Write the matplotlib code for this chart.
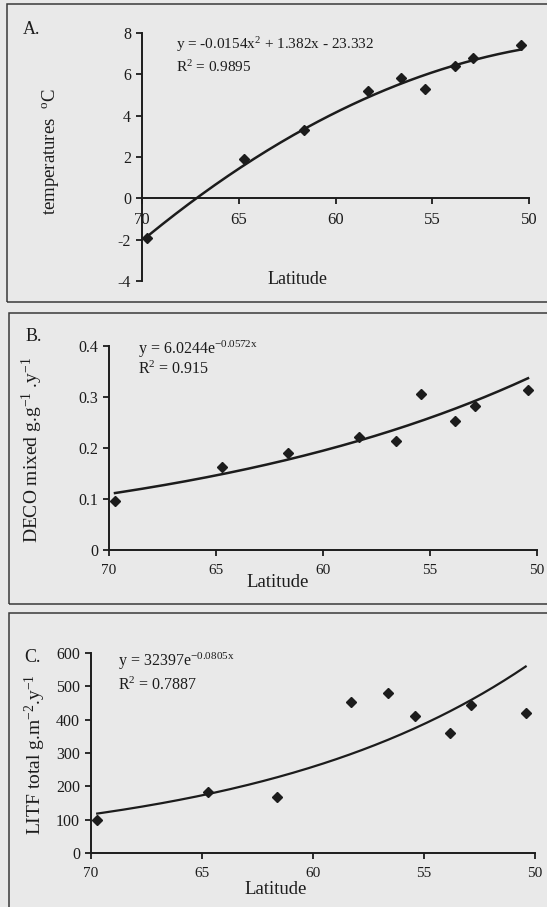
import numpy as np
import matplotlib
matplotlib.use('Agg')
import matplotlib.pyplot as plt
from matplotlib.patches import Rectangle
from matplotlib.ticker import FuncFormatter

plt.rcParams['font.family'] = ['Liberation Serif', 'DejaVu Serif']
plt.rcParams['mathtext.fontset'] = 'custom'
plt.rcParams['mathtext.rm'] = 'Liberation Serif'
plt.rcParams['mathtext.it'] = 'Liberation Serif:italic'
plt.rcParams['axes.unicode_minus'] = False

# Latitude of the sites (N-S transect)
latitude = [69.72, 64.72, 61.62, 58.3, 56.6, 55.4, 53.85, 52.9, 50.42]

# A. mean annual temperature
temperature = [-1.9, 1.9, 3.3, 5.2, 5.8, 5.3, 6.4, 6.8, 7.4]
# B. decomposition rate
deco_mixed = [0.097, 0.162, 0.191, 0.222, 0.214, 0.305, 0.253, 0.282, 0.314]
# C. litter fall
litf_total = [100, 184, 167, 454, 479, 412, 359, 443, 419]

# trendline coefficients as printed on the chart
poly_a = (-0.0154, 1.382, -23.332)
exp_b = (6.0244, -0.0572)
exp_c = (32397, -0.0805)

W, H = 547, 907
INK = '#1c1c1c'
BG = '#e9e9e9'

fig = plt.figure(figsize=(W / 100, H / 100), dpi=100, facecolor=BG)


def px_axes(left, top, right, bottom):
    return fig.add_axes([left / W, 1 - bottom / H, (right - left) / W, (bottom - top) / H])


def box(left, top, right, bottom):
    fig.patches.append(Rectangle((left / W, 1 - bottom / H), (right - left) / W, (bottom - top) / H,
                                 transform=fig.transFigure, fill=False, edgecolor='#3a3a3a', lw=1.1))


def style(ax, ylim, yticks, ytick_size, xtick_size):
    ax.set_facecolor('none')
    ax.set_xlim(70, 50)
    ax.set_ylim(*ylim)
    ax.set_xticks([70, 65, 60, 55, 50])
    ax.set_yticks(yticks)
    ax.yaxis.set_major_formatter(FuncFormatter(lambda v, p: f'{v:g}'))
    for s in ['top', 'right']:
        ax.spines[s].set_visible(False)
    for s in ['left', 'bottom']:
        ax.spines[s].set_linewidth(1.4)
        ax.spines[s].set_color(INK)
    ax.tick_params(axis='both', direction='out', length=4, width=1.3, colors=INK)
    ax.tick_params(axis='y', labelsize=ytick_size, pad=4)
    ax.tick_params(axis='x', labelsize=xtick_size, pad=6)


box(7, 4, 560, 302)
box(9, 313, 560, 604)
box(9, 613, 560, 930)

xs = np.linspace(min(latitude), max(latitude), 200)

# ---------- A ----------
ax1 = px_axes(142, 33, 529, 281)
style(ax1, (-4, 8), np.arange(-4, 9, 2), 11.5, 12)
ax1.spines['bottom'].set_position(('data', 0))
ax1.plot(xs, poly_a[0] * xs**2 + poly_a[1] * xs + poly_a[2], color=INK, lw=1.8)
ax1.plot(latitude, temperature, 'D', color=INK, ms=5.5)
ax1.text(-0.236, 0.52, 'temperatures  $^{\\mathrm{o}}$C', transform=ax1.transAxes, rotation=90,
         ha='center', va='center', fontsize=13.5, color=INK)
ax1.text(0.403, 0.005, 'Latitude', transform=ax1.transAxes, ha='center', va='center', fontsize=13, color=INK)
ax1.text(0.088, 0.952, 'y = -0.0154x$^{2}$ + 1.382x - 23.332', transform=ax1.transAxes,
         ha='left', va='center', fontsize=11, color=INK)
ax1.text(0.088, 0.863, 'R$^{2}$ = 0.9895', transform=ax1.transAxes, ha='left', va='center', fontsize=11, color=INK)
fig.text(23 / W, 1 - 30 / H, 'A.', ha='left', va='center', fontsize=13, color=INK)

# ---------- B ----------
ax2 = px_axes(109, 346, 537, 550)
style(ax2, (0, 0.4), [0, 0.1, 0.2, 0.3, 0.4], 11.5, 11)
ax2.plot(xs, exp_b[0] * np.exp(exp_b[1] * xs), color=INK, lw=1.8)
ax2.plot(latitude, deco_mixed, 'D', color=INK, ms=5.5)
ax2.text(-0.178, 0.49, 'DECO mixed g.g$^{\\mathrm{-1}}$ .y$^{\\mathrm{-1}}$', transform=ax2.transAxes,
         rotation=90, ha='center', va='center', fontsize=14, color=INK)
ax2.text(0.393, -0.16, 'Latitude', transform=ax2.transAxes, ha='center', va='center', fontsize=13.5, color=INK)
ax2.text(0.068, 0.985, 'y = 6.0244e$^{\\mathrm{-0.0572x}}$', transform=ax2.transAxes,
         ha='left', va='center', fontsize=11.5, color=INK)
ax2.text(0.068, 0.885, 'R$^{2}$ = 0.915', transform=ax2.transAxes, ha='left', va='center', fontsize=11.5, color=INK)
fig.text(26 / W, 1 - 336 / H, 'B.', ha='left', va='center', fontsize=13, color=INK)

# ---------- C ----------
ax3 = px_axes(91, 653, 535, 853)
style(ax3, (0, 600), np.arange(0, 601, 100), 11.5, 11)
ax3.plot(xs, exp_c[0] * np.exp(exp_c[1] * xs), color=INK, lw=1.6)
ax3.plot(latitude, litf_total, 'D', color=INK, ms=5.5)
ax3.text(-0.125, 0.49, 'LITF total g.m$^{\\mathrm{-2}}$.y$^{\\mathrm{-1}}$', transform=ax3.transAxes,
         rotation=90, ha='center', va='center', fontsize=14, color=INK)
ax3.text(0.415, -0.18, 'Latitude', transform=ax3.transAxes, ha='center', va='center', fontsize=13.5, color=INK)
ax3.text(0.06, 0.96, 'y = 32397e$^{\\mathrm{-0.0805x}}$', transform=ax3.transAxes,
         ha='left', va='center', fontsize=11.5, color=INK)
ax3.text(0.06, 0.84, 'R$^{2}$ = 0.7887', transform=ax3.transAxes, ha='left', va='center', fontsize=11.5, color=INK)
fig.text(24 / W, 1 - 658 / H, 'C.', ha='left', va='center', fontsize=13, color=INK)

plt.savefig('out.png', dpi=100, facecolor=BG)
